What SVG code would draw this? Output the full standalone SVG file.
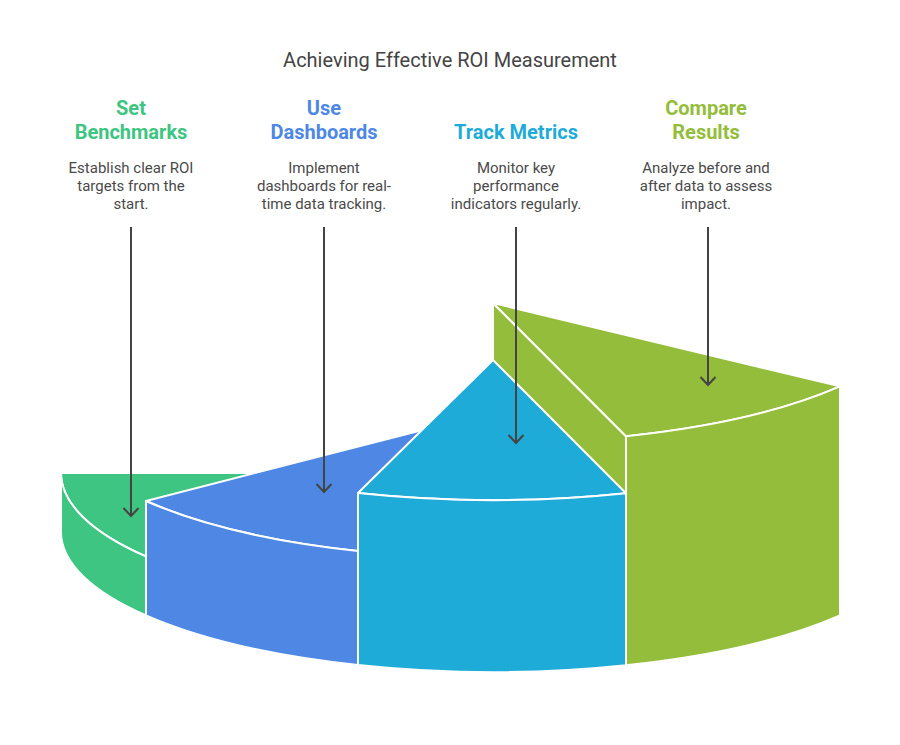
<svg xmlns="http://www.w3.org/2000/svg" width="900" height="745" viewBox="0 0 900 745">
  <style>
    .title { font-family: Roboto, "Liberation Sans", sans-serif; font-size: 20px; fill: #444444; text-anchor: middle; }
    .head { font-family: Roboto, "Liberation Sans", sans-serif; font-size: 20px; font-weight: 700; text-anchor: middle; }
    .desc { font-family: Roboto, "Liberation Sans", sans-serif; font-size: 15px; fill: #4a4a4a; text-anchor: middle; }
    .face { stroke: #ffffff; stroke-width: 2; stroke-linejoin: round; }
    .g1 { fill: #3ec581; }
    .g2 { fill: #4e88e4; }
    .g3 { fill: #1eabd8; }
    .g4 { fill: #93bd3a; }
    .arrow { fill: none; stroke: #444444; stroke-width: 2; }
  </style>
  <defs>
    <marker id="arr" viewBox="-10 -10 12 20" refX="0" refY="0" markerWidth="12" markerHeight="20" markerUnits="userSpaceOnUse" orient="auto">
      <path d="M-8,-7.5 L0,0 L-8,7.5" fill="none" stroke="#444444" stroke-width="2"/>
    </marker>
  </defs>

  <rect width="900" height="745" fill="#ffffff"/>

  <text class="title" x="450" y="67">Achieving Effective ROI Measurement</text>

  <g id="slice-set-benchmarks">
    <path class="face g1" d="M493 473 L61 473 A432 140 0 0 0 146 556.4 Z"/>
    <path class="face g1" d="M61 473 A432 140 0 0 0 146 556.4 L146 615.4 A432 140 0 0 1 61 532 Z"/>
  </g>
  <g id="slice-use-dashboards">
    <path class="face g2" d="M493 412 L146 501 A432 140 0 0 0 358 551 Z"/>
    <path class="face g2" d="M146 501 A432 140 0 0 0 358 551 L358 665 A432 140 0 0 1 146 615.4 Z"/>
  </g>
  <g id="slice-compare-results">
    <path class="face g4" d="M493 303 L626 436.2 L626 665.2 L493 532 Z"/>
    <path class="face g4" d="M493 303 L840 386.4 A432 140 0 0 1 626 436.2 Z"/>
    <path class="face g4" d="M626 436.2 A432 140 0 0 0 840 386.4 L840 615.4 A432 140 0 0 1 626 665.2 Z"/>
  </g>
  <g id="slice-track-metrics">
    <path class="face g3" d="M493 360 L358 493 A432 140 0 0 0 626 493.2 Z"/>
    <path class="face g3" d="M358 493 A432 140 0 0 0 626 493.2 L626 665.2 A432 140 0 0 1 358 665 Z"/>
  </g>

  <g id="node-set-benchmarks">
    <text class="head" fill="#3ec581" x="131" y="115">Set</text>
    <text class="head" fill="#3ec581" x="131" y="139">Benchmarks</text>
    <text class="desc" x="131" y="173">Establish clear ROI</text>
    <text class="desc" x="131" y="191">targets from the</text>
    <text class="desc" x="131" y="209">start.</text>
  </g>
  <g id="node-use-dashboards">
    <text class="head" fill="#4e88e4" x="324" y="115">Use</text>
    <text class="head" fill="#4e88e4" x="324" y="139">Dashboards</text>
    <text class="desc" x="324" y="173">Implement</text>
    <text class="desc" x="324" y="191">dashboards for real-</text>
    <text class="desc" x="324" y="209">time data tracking.</text>
  </g>
  <g id="node-track-metrics">
    <text class="head" fill="#1eabd8" x="516" y="139">Track Metrics</text>
    <text class="desc" x="516" y="173">Monitor key</text>
    <text class="desc" x="516" y="191">performance</text>
    <text class="desc" x="516" y="209">indicators regularly.</text>
  </g>
  <g id="node-compare-results">
    <text class="head" fill="#93bd3a" x="706" y="115">Compare</text>
    <text class="head" fill="#93bd3a" x="706" y="139">Results</text>
    <text class="desc" x="706" y="173">Analyze before and</text>
    <text class="desc" x="706" y="191">after data to assess</text>
    <text class="desc" x="706" y="209">impact.</text>
  </g>

  <g id="connectors">
    <path class="arrow" d="M131 227 L131 516" marker-end="url(#arr)"/>
    <path class="arrow" d="M324 227 L324 492" marker-end="url(#arr)"/>
    <path class="arrow" d="M516 227 L516 443" marker-end="url(#arr)"/>
    <path class="arrow" d="M708 227 L708 385" marker-end="url(#arr)"/>
  </g>
</svg>
